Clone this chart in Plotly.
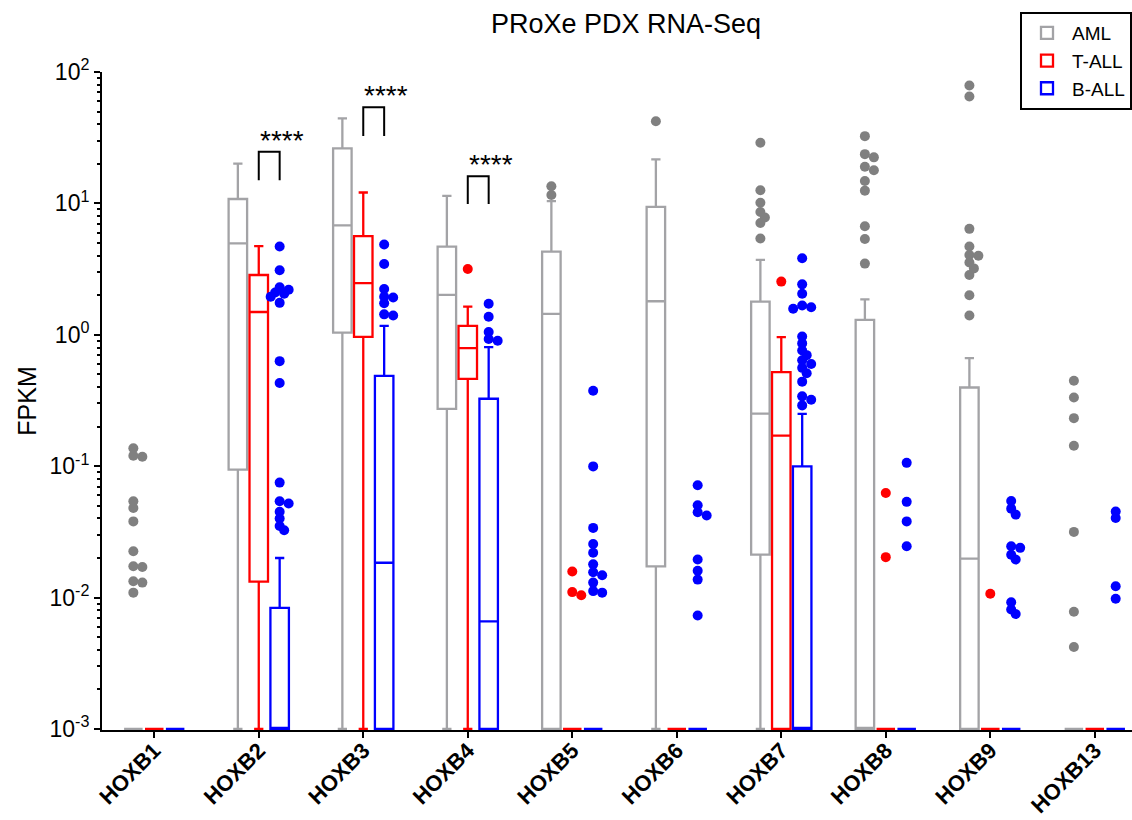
import math
import numpy as np
import plotly.graph_objects as go

# ---------------- data ----------------
genes = ["HOXB1", "HOXB2", "HOXB3", "HOXB4", "HOXB5",
         "HOXB6", "HOXB7", "HOXB8", "HOXB9", "HOXB13"]
groups = ["AML", "T-ALL", "B-ALL"]

# Box statistics in FPKM (0 = not expressed)
aml_low    = [0, 0, 0, 0, 0, 0, 0, 0, 0, 0]
aml_q1     = [0, 0.094, 1.04, 0.273, 0, 0.0173, 0.0212, 0, 0, 0]
aml_median = [0, 4.97, 6.8, 2.01, 1.44, 1.80, 0.251, 0, 0.0198, 0]
aml_q3     = [0, 10.8, 26.2, 4.68, 4.29, 9.42, 1.79, 1.30, 0.397, 0]
aml_high   = [0, 20.1, 44.3, 11.4, 10.4, 21.6, 3.71, 1.86, 0.664, 0]

tall_low    = [0, 0, 0, 0, 0, 0, 0, 0, 0, 0]
tall_q1     = [0, 0.0132, 0.964, 0.462, 0, 0, 0, 0, 0, 0]
tall_median = [0, 1.49, 2.47, 0.791, 0, 0, 0.171, 0, 0, 0]
tall_q3     = [0, 2.85, 5.64, 1.17, 0, 0, 0.52, 0, 0, 0]
tall_high   = [0, 4.73, 12.1, 1.64, 0, 0, 0.959, 0, 0, 0]

ball_low    = [0, 0, 0, 0, 0, 0, 0, 0, 0, 0]
ball_q1     = [0, 0, 0, 0, 0, 0, 0, 0, 0, 0]
ball_median = [0, 0, 0.0184, 0.00658, 0, 0, 0, 0, 0, 0]
ball_q3     = [0, 0.00836, 0.487, 0.326, 0, 0, 0.0996, 0, 0, 0]
ball_high   = [0, 0.020, 1.17, 0.805, 0, 0, 0.25, 0, 0, 0]

# Outlying samples (FPKM) per gene
aml_outliers = [
    [0.137, 0.12, 0.118, 0.054, 0.048, 0.038, 0.0225, 0.0173, 0.0171, 0.0133, 0.013, 0.0109],
    [], [], [],
    [13.5, 11.6],
    [42.2],
    [28.9, 12.6, 10.1, 8.6, 7.8, 7.1, 5.4],
    [32.5, 23.7, 22.4, 19.0, 17.9, 14.8, 12.5, 6.7, 5.35, 3.48],
    [79.0, 65.0, 6.4, 4.7, 4.05, 4.0, 3.55, 3.2, 2.85, 2.0, 1.4],
    [0.447, 0.333, 0.232, 0.143, 0.0316, 0.0078, 0.0042],
]
tall_outliers = [
    [], [], [],
    [3.17],
    [0.0158, 0.011, 0.0104],
    [],
    [2.54],
    [0.0625, 0.0203],
    [0.0107],
    [],
]
ball_outliers = [
    [],
    [4.7, 3.1, 2.3, 2.2, 2.1, 2.05, 1.95, 1.75, 0.63, 0.43, 0.075, 0.054, 0.052, 0.045, 0.040, 0.035, 0.0325],
    [4.87, 3.46, 2.23, 1.95, 1.92, 1.74, 1.43, 1.40],
    [1.72, 1.37, 1.05, 0.93, 0.90],
    [0.375, 0.0996, 0.0339, 0.0256, 0.0219, 0.0179, 0.0156, 0.0148, 0.013, 0.0112, 0.0109],
    [0.0715, 0.0504, 0.0446, 0.0421, 0.0195, 0.016, 0.0137, 0.0073],
    [3.82, 2.42, 2.05, 1.67, 1.62, 1.58, 0.97, 0.86, 0.76, 0.70, 0.64, 0.60, 0.56, 0.51, 0.44, 0.34, 0.32, 0.29],
    [0.106, 0.0535, 0.038, 0.0246],
    [0.0543, 0.0475, 0.0428, 0.0246, 0.0239, 0.0212, 0.0195, 0.0092, 0.0081, 0.0075],
    [0.0451, 0.0403, 0.0122, 0.0098],
]

# significance (T-ALL vs B-ALL)
sig_genes = ["HOXB2", "HOXB3", "HOXB4"]
sig_labels = ["****", "****", "****"]

y_tick_vals = [1e-3, 1e-2, 1e-1, 1e0, 1e1, 1e2]
y_tick_text = ["10<sup>-3</sup>", "10<sup>-2</sup>", "10<sup>-1</sup>",
               "10<sup>0</sup>", "10<sup>1</sup>", "10<sup>2</sup>"]

# ---------------- layout constants ----------------
W, H = 1132, 820
ML, MR, MT, MB = 102, 0, 72, 90
X_RANGE = [-0.5, 9.356]
Y_RANGE = [-3.008, 2.0]
FLOOR = 1e-3  # zero values are drawn at the axis floor
FONT = "Liberation Sans, Arial, sans-serif"

ppx = (W - ML - MR) / (X_RANGE[1] - X_RANGE[0])
ppd = (H - MT - MB) / (Y_RANGE[1] - Y_RANGE[0])

offsets = {"AML": -0.2, "T-ALL": 0.0, "B-ALL": 0.2}
line_colors = {"AML": "#a3a3a6", "T-ALL": "#ff0000", "B-ALL": "#0000ff"}
dot_colors = {"AML": "#808080", "T-ALL": "#ff0000", "B-ALL": "#0000ff"}

stats = {
    "AML": (aml_low, aml_q1, aml_median, aml_q3, aml_high, aml_outliers),
    "T-ALL": (tall_low, tall_q1, tall_median, tall_q3, tall_high, tall_outliers),
    "B-ALL": (ball_low, ball_q1, ball_median, ball_q3, ball_high, ball_outliers),
}


def fl(vals):
    return [v if v > 0 else FLOOR for v in vals]


def swarm(values, center, step_px=4.5, min_dist=6.0):
    """Deterministic bee-swarm placement in pixel space."""
    order = sorted(values, reverse=True)
    placed, xs, ys = [], [], []
    for v in order:
        py = math.log10(v) * ppd
        chosen = 0.0
        for k in [0, 1, -1, 2, -2, 3, -3]:
            dx = k * step_px
            if all(math.hypot(dx - qx, py - qy) >= min_dist for qx, qy in placed):
                chosen = dx
                break
        placed.append((chosen, py))
        xs.append(center + chosen / ppx)
        ys.append(v)
    return xs, ys


fig = go.Figure()

pos = np.arange(len(genes))
for g in groups:
    low, q1, med, q3, high, outl = stats[g]
    fig.add_trace(go.Box(
        name=g,
        x=(pos + offsets[g]).tolist(),
        lowerfence=fl(low), q1=fl(q1), median=fl(med), q3=fl(q3), upperfence=fl(high),
        width=0.177,
        whiskerwidth=0.5,
        line=dict(color=line_colors[g], width=2.3),
        fillcolor="rgba(255,255,255,0)",
        boxpoints=False,
        hoverinfo="skip",
        showlegend=True,
    ))

for g in groups:
    outl = stats[g][5]
    allx, ally = [], []
    for i, vals in enumerate(outl):
        if not vals:
            continue
        xs, ys = swarm(vals, i + offsets[g])
        allx += xs
        ally += ys
    fig.add_trace(go.Scatter(
        x=allx, y=ally, mode="markers",
        marker=dict(color=dot_colors[g], size=10, line=dict(width=0)),
        showlegend=False, hoverinfo="skip", cliponaxis=False,
    ))

# significance brackets above the T-ALL / B-ALL pair
sig_heights = {"HOXB2": (15.0, 24.7), "HOXB3": (32.6, 54.0), "HOXB4": (9.9, 16.1)}
for gname, lab in zip(sig_genes, sig_labels):
    i = genes.index(gname)
    base, top = sig_heights[gname]
    x0, x1 = i + offsets["T-ALL"], i + offsets["B-ALL"]
    fig.add_trace(go.Scatter(
        x=[x0, x0, x1, x1], y=[base, top, top, base], mode="lines",
        line=dict(color="black", width=2), showlegend=False, hoverinfo="skip",
        cliponaxis=False,
    ))
    fig.add_annotation(
        x=x0 - 0.01, y=math.log10(top), xref="x", yref="y",
        text=lab, showarrow=False, xanchor="left", yanchor="bottom",
        yshift=-6, font=dict(family=FONT, size=28, color="black"),
    )

minor_vals = [m * 10.0 ** e for e in range(-3, 2) for m in range(2, 10)]

fig.update_layout(
    width=W, height=H,
    margin=dict(l=ML, r=MR, t=MT, b=MB, pad=0),
    paper_bgcolor="white", plot_bgcolor="white",
    font=dict(family=FONT, color="black"),
    boxmode="overlay",
    title=dict(text="PRoXe PDX RNA-Seq", x=(626 - ML) / (W - ML - MR), xanchor="center",
               xref="paper", y=1 - 24 / H, yanchor="middle", yref="container",
               font=dict(family=FONT, size=27, color="black")),
    legend=dict(x=(1020 - ML) / (W - ML - MR), y=1 + (MT - 12) / (H - MT - MB),
                xanchor="left", yanchor="top", bgcolor="white",
                bordercolor="black", borderwidth=2,
                font=dict(family=FONT, size=19, color="black"),
                traceorder="normal", itemwidth=40, tracegroupgap=0),
    xaxis=dict(
        range=X_RANGE, tickmode="array", tickvals=pos.tolist(), ticktext=genes,
        tickangle=-45, tickfont=dict(family=FONT, size=22, color="black", weight="bold"),
        ticklabelstandoff=-9,
        showline=True, linecolor="black", linewidth=2,
        ticks="outside", ticklen=6, tickwidth=2, tickcolor="black",
        showgrid=False, zeroline=False, automargin=False,
    ),
    yaxis=dict(
        type="log", range=Y_RANGE, tickmode="array",
        tickvals=y_tick_vals, ticktext=y_tick_text,
        tickfont=dict(family=FONT, size=23, color="black"),
        showline=True, linecolor="black", linewidth=2,
        ticks="outside", ticklen=6, tickwidth=2, tickcolor="black",
        minor=dict(tickmode="array", tickvals=minor_vals, ticks="outside",
                   ticklen=3, tickwidth=1.5, tickcolor="black", showgrid=False),
        showgrid=False, zeroline=False, automargin=False,
        title=dict(text="FPKM", font=dict(family=FONT, size=25, color="black"), standoff=6),
    ),
)

fig.write_html("out.html")
